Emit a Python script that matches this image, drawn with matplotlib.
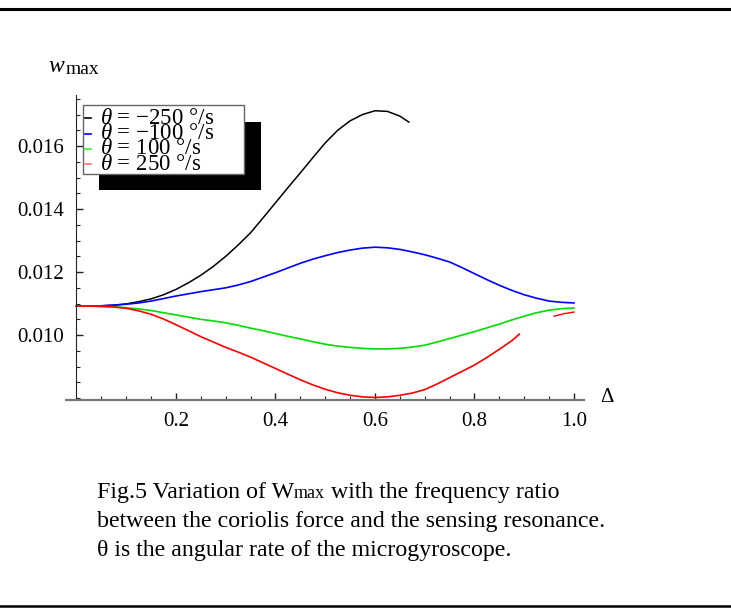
import matplotlib
matplotlib.use("Agg")
import matplotlib.pyplot as plt
from matplotlib.lines import Line2D
from matplotlib.patches import Rectangle
from matplotlib.ticker import MultipleLocator, FormatStrFormatter

plt.rcParams["font.family"] = ["Liberation Serif", "DejaVu Serif"]
plt.rcParams["mathtext.fontset"] = "custom"
plt.rcParams["mathtext.rm"] = "Liberation Serif"
plt.rcParams["mathtext.it"] = "Liberation Serif:italic"

# frequency ratio grid
delta = [0.0, 0.025, 0.05, 0.075, 0.10, 0.125, 0.15, 0.175, 0.20, 0.225,
         0.25, 0.275, 0.30, 0.325, 0.35, 0.375, 0.40, 0.425, 0.45, 0.475,
         0.50, 0.525, 0.55, 0.575, 0.60, 0.625, 0.65, 0.675, 0.70, 0.725,
         0.75, 0.775, 0.80, 0.825, 0.85, 0.875, 0.90, 0.925, 0.95, 0.975,
         1.00]

delta_m250 = [0.0, 0.025, 0.05, 0.075, 0.10, 0.125, 0.15, 0.175, 0.20,
              0.225, 0.25, 0.275, 0.30, 0.325, 0.35, 0.375, 0.40, 0.425,
              0.45, 0.475, 0.50, 0.525, 0.55, 0.575, 0.60, 0.625, 0.65,
              0.668]
w_m250 = [0.01092, 0.01092, 0.01093, 0.01095, 0.01099, 0.01106, 0.01115,
          0.01128, 0.01145, 0.01166, 0.01190, 0.01218, 0.01250, 0.01286,
          0.01325, 0.01372, 0.01420, 0.01468, 0.01515, 0.01563, 0.01610,
          0.01650, 0.01680, 0.01700, 0.01712, 0.01710, 0.01695, 0.01676]

w_m100 = [0.01092, 0.01092, 0.01093, 0.01095, 0.01098, 0.01102, 0.01108,
          0.01116, 0.01124, 0.01131, 0.01138, 0.01144, 0.01150, 0.01159,
          0.01170, 0.01184, 0.01198, 0.01213, 0.01228, 0.01241, 0.01252,
          0.01262, 0.01270, 0.01276, 0.01279, 0.01277, 0.01272, 0.01264,
          0.01255, 0.01244, 0.01232, 0.01214, 0.01195, 0.01176, 0.01158,
          0.01142, 0.01128, 0.01117, 0.01108, 0.01104, 0.01102]

w_p100 = [0.01092, 0.01092, 0.01091, 0.01090, 0.01087, 0.01083, 0.01078,
          0.01071, 0.01064, 0.01057, 0.01050, 0.01045, 0.01039, 0.01031,
          0.01022, 0.01014, 0.01005, 0.00996, 0.00988, 0.00979, 0.00971,
          0.00965, 0.00961, 0.00958, 0.00956, 0.00956, 0.00958, 0.00962,
          0.00968, 0.00978, 0.00989, 0.01000, 0.01011, 0.01023, 0.01035,
          0.01048, 0.01060, 0.01071, 0.01079, 0.01084, 0.01086]

delta_p250_a = [0.0, 0.025, 0.05, 0.075, 0.10, 0.125, 0.15, 0.175, 0.20,
                0.225, 0.25, 0.275, 0.30, 0.325, 0.35, 0.375, 0.40, 0.425,
                0.45, 0.475, 0.50, 0.525, 0.55, 0.575, 0.60, 0.625, 0.65,
                0.675, 0.70, 0.725, 0.75, 0.775, 0.80, 0.825, 0.85, 0.875,
                0.89]
w_p250_a = [0.01092, 0.01092, 0.01091, 0.01089, 0.01085, 0.01077, 0.01066,
            0.01051, 0.01033, 0.01014, 0.00995, 0.00978, 0.00961, 0.00946,
            0.00930, 0.00912, 0.00894, 0.00876, 0.00858, 0.00842, 0.00828,
            0.00817, 0.00809, 0.00804, 0.00802, 0.00804, 0.00809, 0.00816,
            0.00827, 0.00845, 0.00865, 0.00885, 0.00905, 0.00929, 0.00955,
            0.00982, 0.01003]
delta_p250_b = [0.96, 0.98, 1.00]
w_p250_b = [0.01060, 0.01068, 0.01073]

series_labels = ["−250 °/s", "−100 °/s", "100 °/s", "250 °/s"]
series_colors = ["black", "#0000ff", "#00dd00", "#ff0000"]
handle_colors = ["black", "#0000ff", "#33ee33", "#ff7070"]

caption = [
    ("Fig.5 Variation of W", "max", " with the frequency ratio"),
    ("between the coriolis force and the sensing resonance.", "", ""),
    ("θ is the angular rate of the microgyroscope.", "", ""),
]

W, H = 731, 612
fig = plt.figure(figsize=(W / 100, H / 100), dpi=100)


def fx(px):
    return px / W


def fy(py):
    return 1 - py / H


ax = fig.add_axes([fx(66), fy(400), fx(584) - fx(66), fy(95) - fy(400)])
ax.set_xlim(-0.0211, 1.0201)
ax.set_ylim(0.00794, 0.01762)

ax.plot(delta_m250, w_m250, color=series_colors[0], lw=1.1)
ax.plot(delta, w_m100, color=series_colors[1], lw=1.2)
ax.plot(delta, w_p100, color=series_colors[2], lw=1.2)
ax.plot(delta_p250_a, w_p250_a, color=series_colors[3], lw=1.2)
ax.plot(delta_p250_b, w_p250_b, color=series_colors[3], lw=1.0)

for s in ["top", "right"]:
    ax.spines[s].set_visible(False)
ax.spines["left"].set_position(("data", 0))
ax.spines["left"].set_color("#222222")
ax.spines["bottom"].set_color("#777777")
ax.spines["bottom"].set_linewidth(1.6)

ax.xaxis.set_major_locator(MultipleLocator(0.2))
ax.xaxis.set_minor_locator(MultipleLocator(0.05))
ax.yaxis.set_major_locator(MultipleLocator(0.002))
ax.yaxis.set_minor_locator(MultipleLocator(0.0005))
ax.xaxis.set_major_formatter(FormatStrFormatter("%.1f"))
ax.yaxis.set_major_formatter(FormatStrFormatter("%.3f"))
ax.set_xticks([0.2, 0.4, 0.6, 0.8, 1.0])
ax.set_yticks([0.010, 0.012, 0.014, 0.016])
ax.tick_params(which="major", direction="in", length=5, width=1,
               labelsize=15, pad=9, color="#222222")
ax.tick_params(which="minor", direction="in", length=3, width=0.8,
               color="#222222")

# axis labels
fig.text(fx(64), fy(67), "w", style="italic", fontsize=17,
         ha="right", va="center")
fig.text(fx(66), fy(70), "max", fontsize=14, ha="left", va="center")
fig.text(fx(607), fy(398), "Δ", fontsize=15, ha="center", va="center")

# legend with solid shadow
fig.patches.append(Rectangle((fx(99), fy(190)), fx(261) - fx(99),
                             fy(122) - fy(190), transform=fig.transFigure,
                             facecolor="black", edgecolor="none", zorder=5))
fig.patches.append(Rectangle((fx(83), fy(174)), fx(244) - fx(83),
                             fy(105) - fy(174), transform=fig.transFigure,
                             facecolor="white", edgecolor="#666666",
                             lw=1, zorder=6))
for i, (lab, col) in enumerate(zip(series_labels, handle_colors)):
    yy = 118 + i * 15.5
    fig.lines.append(Line2D([fx(85), fx(91)], [fy(yy), fy(yy)],
                            transform=fig.transFigure, color=col,
                            lw=1.2, zorder=7))
    fig.text(fx(100), fy(yy), r"$\theta$ = " + lab, fontsize=16.5,
             ha="left", va="center", zorder=8)

# frame lines
fig.lines.append(Line2D([0, 1], [fy(9), fy(9)], transform=fig.transFigure,
                        color="black", lw=2.2))
fig.lines.append(Line2D([0, 1], [fy(606), fy(606)], transform=fig.transFigure,
                        color="black", lw=1.8))

# caption, with the small "max" on the baseline
fig.canvas.draw()
renderer = fig.canvas.get_renderer()
for i, (a, b, c) in enumerate(caption):
    yb = fy(498 + i * 29)
    t = fig.text(fx(97), yb, a, fontsize=17.2, ha="left", va="baseline")
    if b:
        ext = t.get_window_extent(renderer)
        t2 = fig.text(ext.x1 / W, yb, b, fontsize=13, ha="left",
                      va="baseline")
        ext2 = t2.get_window_extent(renderer)
        fig.text(ext2.x1 / W, yb, c, fontsize=17.2, ha="left",
                 va="baseline")

fig.savefig("out.png", dpi=100)
